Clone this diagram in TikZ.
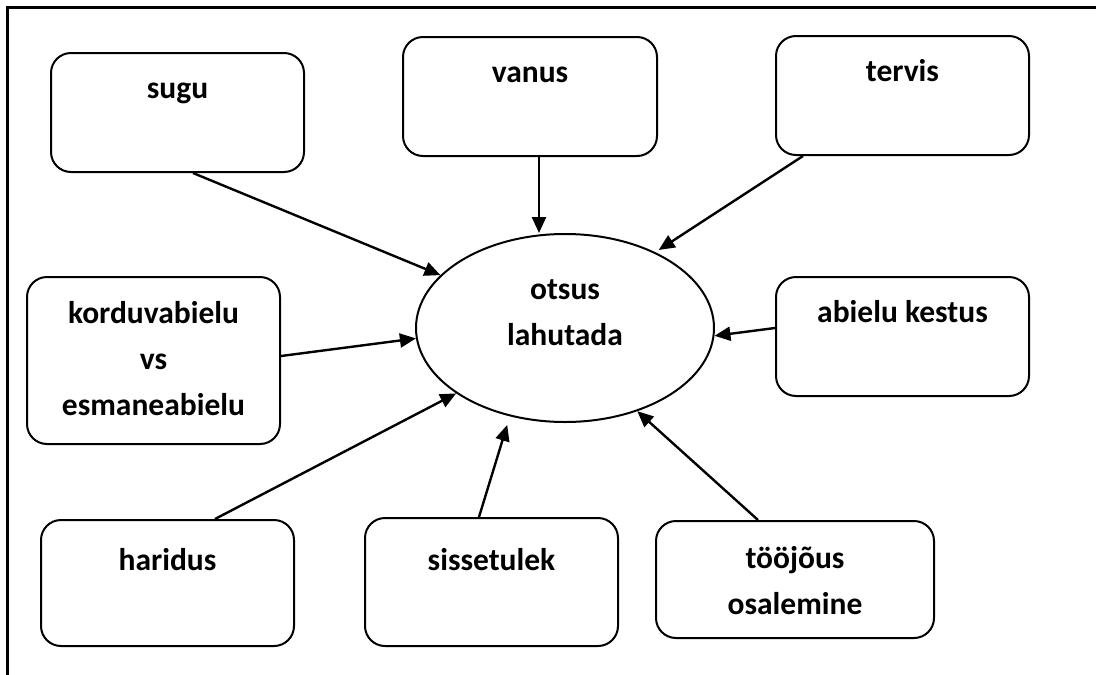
\documentclass[tikz,border=0pt]{standalone}
\usepackage{fontspec}
\setmainfont{Carlito}
\usetikzlibrary{arrows.meta,shapes.geometric}

\begin{document}
\begin{tikzpicture}[x=1pt, y=-1pt,
    factor/.style={draw, line width=2pt, rounded corners=20pt, minimum height=119pt, minimum width=253pt, inner sep=0pt},
    decision/.style={draw, line width=2pt, ellipse, minimum width=298pt, minimum height=188pt, inner sep=0pt},
    lbl/.style={anchor=base, align=center, inner sep=0pt, font=\fontsize{31.5}{46}\selectfont\bfseries},
    arr/.style={-{Triangle[length=16pt,width=14pt]}, line width=2.4pt}]
    \useasboundingbox (0,0) rectangle (1096,675);

    % Frame
    \draw [line width=3pt] (7,675) -- (7,7) -- (1096,7);

    % Decision
    \node [decision] (otsus) at (565,328) {};
    \node [lbl] (otsustxt) at ([yshift=-17pt]otsus.center) {otsus\\lahutada};

    % Factors, top row
    \node [factor] (sugu) at (177.5,112.5) {};
    \node [factor, minimum width=254pt] (vanus) at (530,96.5) {};
    \node [factor] (tervis) at (902.5,95.5) {};
    \node [lbl] (sugutxt) at ([yshift=-46pt]sugu.north) {sugu};
    \node [lbl] (vanustxt) at ([yshift=-46pt]vanus.north) {vanus};
    \node [lbl] (tervistxt) at ([yshift=-46pt]tervis.north) {tervis};

    % Factors, middle row
    \node [factor, minimum height=167pt] (kordus) at (153.5,360.5) {};
    \node [factor] (kestus) at (902.5,336.5) {};
    \node [lbl] (kordustxt) at ([yshift=-139pt]kordus.north) {korduvabielu\\vs\\esmaneabielu};
    \node [lbl] (kestustxt) at ([yshift=-46pt]kestus.north) {abielu kestus};

    % Factors, bottom row
    \node [factor, minimum height=126pt] (haridus) at (167.5,583) {};
    \node [factor, minimum height=128pt] (tulu) at (491.5,582) {};
    \node [factor, minimum height=117pt, minimum width=278pt] (toojous) at (795,579.5) {};
    \node [lbl] (haridustxt) at ([yshift=-51pt]haridus.north) {haridus};
    \node [lbl] (tulutxt) at ([yshift=-53pt]tulu.north) {sissetulek};
    \node [lbl] (toojoustxt) at ([yshift=-94pt]toojous.north) {tööjõus\\osalemine};

    % Arrows
    \draw [arr] ([xshift=15.5pt]sugu.south) -- (otsus.157);
    \draw [arr] ([xshift=9pt]vanus.south) -- ([xshift=9pt]vanus.south |- otsus.north);
    \draw [arr, shorten >=4pt] ([xshift=-99.5pt]tervis.south) -- (otsus.40);
    \draw [arr] ([yshift=4.5pt]kordus.east) -- (otsus.184);
    \draw [arr] ([yshift=8.5pt]kestus.west) -- (otsus.-3);
    \draw [arr] ([xshift=47.5pt]haridus.north) -- (otsus.211);
    \draw [arr, shorten >=9pt] ([xshift=-12.5pt]tulu.north) -- (otsus.238);
    \draw [arr] ([xshift=-37pt]toojous.north) -- (otsus.-49);
\end{tikzpicture}
\end{document}
